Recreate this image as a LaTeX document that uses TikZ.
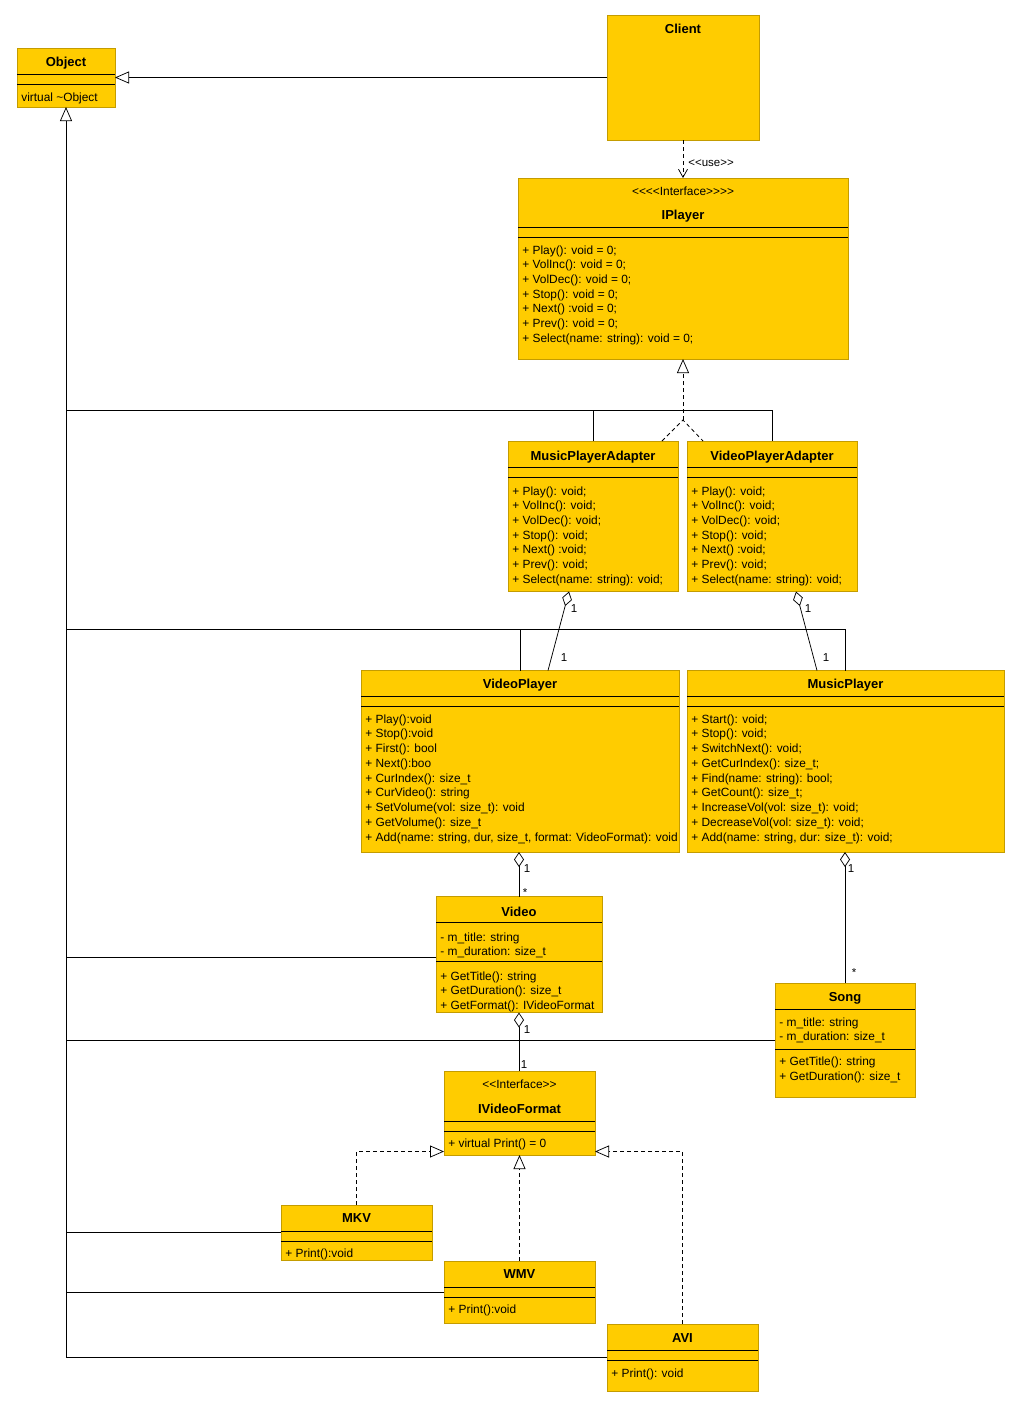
\documentclass[tikz,border=0pt]{standalone}
\usepackage{fontspec}
\setmainfont{Liberation Sans}[Ligatures=TeXOff]
\usetikzlibrary{arrows.meta}
\definecolor{clsfill}{RGB}{255,204,0}
\definecolor{clsborder}{RGB}{196,156,0}

\begin{document}
\begin{tikzpicture}[x=1pt, y=-1pt, line width=0.75pt,
  cls/.style={draw=clsborder, fill=clsfill, inner sep=0pt, outer sep=0pt, anchor=north west},
  ttl/.style={font=\fontsize{13}{15}\selectfont\bfseries, inner sep=0pt, text height=9.3pt, text depth=0pt},
  mem/.style={font=\fontsize{11.9}{14}\selectfont, inner sep=0pt, anchor=west, text height=8.3pt, text depth=0pt},
  ster/.style={mem, anchor=center},
  mult/.style={font=\fontsize{11.5}{13}\selectfont, inner sep=0pt, text height=8pt, text depth=0pt},
  gen/.style={-{Triangle[open, length=14pt, width=12pt]}},
  real/.style={gen, dash pattern=on 4pt off 3pt},
  dep/.style={-{Straight Barb[length=8pt, width=9pt]}, dash pattern=on 4pt off 3pt},
  agg/.style={{Diamond[open, length=15pt, width=10pt]}-}]
  \useasboundingbox (0,0) rectangle (1020,1409);

  % Object
  \node[cls, minimum width=98pt, minimum height=59pt] (obj) at (17,48) {};
  \node[ttl] (objT) at (66,62) {Object};
  \draw (17,74) -- (115,74);
  \draw (17,84) -- (115,84);
  \node[mem] (objM1) at (21,97) {virtual \textasciitilde Object};

  % Client
  \node[cls, minimum width=152pt, minimum height=125pt] (client) at (607,15) {};
  \node[ttl] (clientT) at (683,29) {Client};

  % IPlayer
  \node[cls, minimum width=330pt, minimum height=181pt] (ip) at (518,178) {};
  \node[ster] (ipS) at (683,191) {<<<<Interface>>>>};
  \node[ttl] (ipT) at (683,215) {IPlayer};
  \draw (518,227.5) -- (848,227.5);
  \draw (518,237.5) -- (848,237.5);
  \foreach \m [count=\i] in {{+ Play(): void = 0;}, {+ VolInc(): void = 0;}, {+ VolDec(): void = 0;},
      {+ Stop(): void = 0;}, {+ Next() :void = 0;}, {+ Prev(): void = 0;}, {+ Select(name: string): void = 0;}}
    \node[mem] (ipM\i) at (522,{250+14.65*(\i-1)}) {\m};

  % MusicPlayerAdapter
  \node[cls, minimum width=170pt, minimum height=150.5pt] (mpa) at (508,441) {};
  \node[ttl] (mpaT) at (593,456) {MusicPlayerAdapter};
  \draw (508,467.5) -- (678,467.5);
  \draw (508,477.5) -- (678,477.5);
  \foreach \m [count=\i] in {{+ Play(): void;}, {+ VolInc(): void;}, {+ VolDec(): void;},
      {+ Stop(): void;}, {+ Next() :void;}, {+ Prev(): void;}, {+ Select(name: string): void;}}
    \node[mem] (mpaM\i) at (512,{491+14.65*(\i-1)}) {\m};

  % VideoPlayerAdapter
  \node[cls, minimum width=170pt, minimum height=150.5pt] (vpa) at (687,441) {};
  \node[ttl] (vpaT) at (772,456) {VideoPlayerAdapter};
  \draw (687,467.5) -- (857,467.5);
  \draw (687,477.5) -- (857,477.5);
  \foreach \m [count=\i] in {{+ Play(): void;}, {+ VolInc(): void;}, {+ VolDec(): void;},
      {+ Stop(): void;}, {+ Next() :void;}, {+ Prev(): void;}, {+ Select(name: string): void;}}
    \node[mem] (vpaM\i) at (691,{491+14.65*(\i-1)}) {\m};

  % VideoPlayer
  \node[cls, minimum width=318pt, minimum height=181.5pt] (vp) at (361,670.5) {};
  \node[ttl] (vpT) at (520,684) {VideoPlayer};
  \draw (361,696) -- (679,696);
  \draw (361,706) -- (679,706);
  \foreach \m [count=\i] in {{+ Play():void}, {+ Stop():void}, {+ First(): bool}, {+ Next():boo},
      {+ CurIndex(): size\_t}, {+ CurVideo(): string}, {+ SetVolume(vol: size\_t): void},
      {+ GetVolume(): size\_t}, {+ Add(name: string, dur, size\_t, format: VideoFormat): void}}
    \node[mem] (vpM\i) at (365,{719+14.75*(\i-1)}) {\m};

  % MusicPlayer
  \node[cls, minimum width=317pt, minimum height=181.5pt] (mp) at (687,670.5) {};
  \node[ttl] (mpT) at (845.5,684) {MusicPlayer};
  \draw (687,696) -- (1004,696);
  \draw (687,706) -- (1004,706);
  \foreach \m [count=\i] in {{+ Start(): void;}, {+ Stop(): void;}, {+ SwitchNext(): void;},
      {+ GetCurIndex(): size\_t;}, {+ Find(name: string): bool;}, {+ GetCount(): size\_t;},
      {+ IncreaseVol(vol: size\_t): void;}, {+ DecreaseVol(vol: size\_t): void;},
      {+ Add(name: string, dur: size\_t): void;}}
    \node[mem] (mpM\i) at (691,{719+14.75*(\i-1)}) {\m};

  % Video
  \node[cls, minimum width=166pt, minimum height=116pt] (video) at (436,896.5) {};
  \node[ttl] (videoT) at (519,912) {Video};
  \draw (436,922.5) -- (602,922.5);
  \node[mem] (videoA1) at (440,937) {- m\_title: string};
  \node[mem] (videoA2) at (440,951) {- m\_duration: size\_t};
  \draw (436,961) -- (602,961);
  \node[mem] (videoM1) at (440,976) {+ GetTitle(): string};
  \node[mem] (videoM2) at (440,990.5) {+ GetDuration(): size\_t};
  \node[mem] (videoM3) at (440,1005) {+ GetFormat(): IVideoFormat};

  % Song
  \node[cls, minimum width=140pt, minimum height=114.5pt] (song) at (775,983) {};
  \node[ttl] (songT) at (845,997) {Song};
  \draw (775,1009) -- (915,1009);
  \node[mem] (songA1) at (779,1022) {- m\_title: string};
  \node[mem] (songA2) at (779,1036.5) {- m\_duration: size\_t};
  \draw (775,1049) -- (915,1049);
  \node[mem] (songM1) at (779,1061) {+ GetTitle(): string};
  \node[mem] (songM2) at (779,1076) {+ GetDuration(): size\_t};

  % IVideoFormat
  \node[cls, minimum width=151pt, minimum height=84pt] (ivf) at (444,1071) {};
  \node[ster] (ivfS) at (519.5,1084) {<<Interface>>};
  \node[ttl] (ivfT) at (519.5,1109) {IVideoFormat};
  \draw (444,1121) -- (595,1121);
  \draw (444,1131) -- (595,1131);
  \node[mem] (ivfM1) at (448,1143) {+ virtual Print() = 0};

  % MKV
  \node[cls, minimum width=151pt, minimum height=55pt] (mkv) at (281,1205) {};
  \node[ttl] (mkvT) at (356.5,1218) {MKV};
  \draw (281,1231) -- (432,1231);
  \draw (281,1241) -- (432,1241);
  \node[mem] (mkvM1) at (285,1253) {+ Print():void};

  % WMV
  \node[cls, minimum width=151pt, minimum height=62pt] (wmv) at (444,1261) {};
  \node[ttl] (wmvT) at (519.5,1274) {WMV};
  \draw (444,1287) -- (595,1287);
  \draw (444,1297) -- (595,1297);
  \node[mem] (wmvM1) at (448,1309) {+ Print():void};

  % AVI
  \node[cls, minimum width=151pt, minimum height=67pt] (avi) at (607,1324) {};
  \node[ttl] (aviT) at (682.5,1338) {AVI};
  \draw (607,1350) -- (758,1350);
  \draw (607,1360) -- (758,1360);
  \node[mem] (aviM1) at (611,1373) {+ Print(): void};

  % inheritance to Object
  \draw[gen] (client.west) -- (obj.east);
  \draw[gen] (avi.west) -| (obj.south);
  \draw (obj.south |- 0,410) -| (vpa.north);
  \draw (mpa.north) -- (mpa.north |- 0,410);
  \draw (obj.south |- 0,629) -| (mp.north);
  \draw (vp.north) -- (vp.north |- 0,629);
  \draw (video.west |- 0,957) -- (obj.south |- 0,957);
  \draw (song.west) -- (obj.south |- song.west);
  \draw (mkv.west) -- (obj.south |- mkv.west);
  \draw (wmv.west) -- (obj.south |- wmv.west);

  % use
  \draw[dep] (client.south) -- (ip.north);
  \node[mult, anchor=west] (useL) at (688,162) {<<use>>};

  % realization of IPlayer
  \coordinate (ipFork) at (683,420);
  \draw[real] (ipFork) -- (ip.south);
  \draw[dash pattern=on 4pt off 3pt] (mpa.north -| 662,0) -- (ipFork) -- (vpa.north -| 703,0);

  % aggregations
  \draw[agg] (mpa.south -| 569,0) -- (vp.north -| 548,0);
  \node[mult] (mpaVp1) at (574,608) {1};
  \node[mult] (mpaVp2) at (564,657) {1};
  \draw[agg] (vpa.south -| 796,0) -- (mp.north -| 817,0);
  \node[mult] (vpaMp1) at (808,608) {1};
  \node[mult] (vpaMp2) at (826,657) {1};
  \draw[agg] (vp.south -| video.north) -- (video.north);
  \node[mult] (vpVideo1) at (527,868) {1};
  \node[mult] (vpVideo2) at (525,892) {*};
  \draw[agg] (mp.south -| song.north) -- (song.north);
  \node[mult] (mpSong1) at (851,868) {1};
  \node[mult] (mpSong2) at (854,972) {*};
  \draw[agg] (video.south) -- (video.south |- ivf.north);
  \node[mult] (videoIvf1) at (527,1029) {1};
  \node[mult] (videoIvf2) at (524,1064) {1};

  % realization of IVideoFormat
  \draw[real] (mkv.north) |- (ivf.west |- 0,1151.5);
  \draw[real] (wmv.north) -- (ivf.south);
  \draw[real] (avi.north) |- (ivf.east |- 0,1151.5);
\end{tikzpicture}
\end{document}
